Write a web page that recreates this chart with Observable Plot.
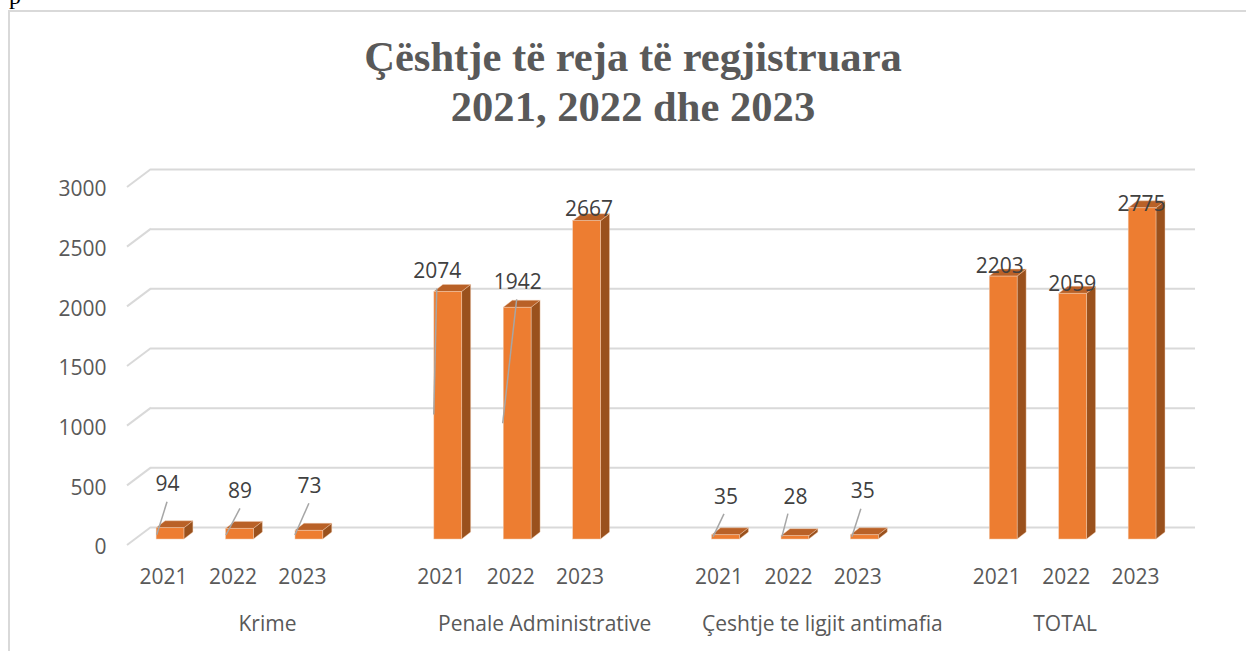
<!DOCTYPE html>
<html>
<head>
<meta charset="utf-8">
<script src="https://cdn.jsdelivr.net/npm/d3@7"></script>
<script src="https://cdn.jsdelivr.net/npm/@observablehq/plot@0.6"></script>
<style>
  html, body { margin: 0; padding: 0; background: #fff; overflow: hidden; }
  #page { position: relative; width: 1246px; height: 651px; overflow: hidden; }
  #stray { position: absolute; left: 9px; top: -17px; font: 24px "Liberation Serif", serif; color: #000; }
  #frame { position: absolute; left: 8px; top: 10px; width: 1238px; height: 660px; border-top: 2px solid #d9d9d9; border-left: 2px solid #d9d9d9; box-sizing: border-box; }
  #title { position: absolute; left: 0; width: 1266px; top: 32px; text-align: center; font: bold 42.6px/49.5px "Liberation Serif", serif; color: #595959; }
  #chart { position: absolute; left: 0; top: 0; }
  #chart svg { display: block; overflow: visible; }
</style>
</head>
<body>
<div id="page">
  <div id="stray">p</div>
  <div id="frame"></div>
  <div id="chart"></div>
  <div id="title">Çështje të reja të regjistruara<br>2021, 2022 dhe 2023</div>
</div>
<script>
// ---- Data ----
const groups = ["Krime", "Penale Administrative", "Çeshtje te ligjit antimafia", "TOTAL"];
const years = ["2021", "2022", "2023"];
const krime = [94, 89, 73];
const penale = [2074, 1942, 2667];
const antimafia = [35, 28, 35];
const total = [2203, 2059, 2775];
const yTicks = [0, 500, 1000, 1500, 2000, 2500, 3000];

const series = [krime, penale, antimafia, total];
const rows = groups.flatMap((g, gi) => years.map((yr, yi) => ({group: g, year: yr, value: series[gi][yi], key: g + "|" + yr})));

// x domain: three year slots per group, with an empty slot between groups
const domain = groups.flatMap((g, gi) => {
  const keys = years.map((yr) => g + "|" + yr);
  return gi < groups.length - 1 ? [...keys, "gap" + gi] : keys;
});

// ---- Styling of marks (pixel offsets relative to each bar's centre and top) ----
const DEPTH_X = 9, DEPTH_Y = 7;   // 3-D extrusion of the bars
const GRID_BACK = 12;             // rear wall offset from the front value plane
const labelOffsets = [
  [-3, -44], [0, -38], [0, -45],
  [-11, -21], [0, -25], [2, -12],
  [0, -38], [0, -39], [-2, -44],
  [-4, -10.5], [-1, -10], [-1, -4]
];
const leaderOffsets = [
  [-13.3, 7, -3, -26], [-13.5, 6.6, 0.5, -20], [-14, 4.7, 0, -27],
  [-14, 123, -11, -3], [-14.5, 116, -0.5, -8], null,
  [-12.5, 2, -1.5, -21], [-13, 1, -7, -22], [-12.5, 2, -3.5, -26],
  null, null, null
];
const groupDx = [27.5, 27, 27, -8];

const ns = "http://www.w3.org/2000/svg";
function poly(parent, pts, fill) {
  const p = document.createElementNS(ns, "polygon");
  p.setAttribute("points", pts.map((q) => q.join(",")).join(" "));
  p.setAttribute("fill", fill);
  p.setAttribute("stroke", "#f0c9ad");
  p.setAttribute("stroke-width", "0.7");
  p.setAttribute("stroke-opacity", "0.6");
  parent.appendChild(p);
}

// floor diagonals at the left end of every gridline, positioned by the y scale
function gridFeet(index, scales, values, dims) {
  const g = document.createElementNS(ns, "g");
  for (const v of yTicks) {
    const yBack = scales.y(v) - GRID_BACK;
    const l = document.createElementNS(ns, "line");
    l.setAttribute("x1", dims.marginLeft);
    l.setAttribute("y1", yBack);
    l.setAttribute("x2", dims.marginLeft - 24);
    l.setAttribute("y2", yBack + 18);
    l.setAttribute("stroke", "#d9d9d9");
    l.setAttribute("stroke-width", 2);
    g.appendChild(l);
  }
  return g;
}

// side + top faces of each bar, derived from the scaled bar geometry
function faces(index, scales, values, dims, context, next) {
  const g = next(index, scales, values, dims, context);
  const bw = scales.x.bandwidth();
  const under = document.createElementNS(ns, "g");
  for (const i of index) {
    const x0 = scales.x(rows[i].key), x1 = x0 + bw;
    const top = scales.y(rows[i].value), base = scales.y(0);
    poly(under, [[x1, top], [x1 + DEPTH_X, top - DEPTH_Y], [x1 + DEPTH_X, base - DEPTH_Y], [x1, base]], "#9a511d");
    poly(under, [[x0, top], [x0 + DEPTH_X, top - DEPTH_Y], [x1 + DEPTH_X, top - DEPTH_Y], [x1, top]], "#b96127");
  }
  g.insertBefore(under, g.firstChild);
  return g;
}

function leaders(index, scales) {
  const g = document.createElementNS(ns, "g");
  const bw = scales.x.bandwidth();
  rows.forEach((d, i) => {
    const o = leaderOffsets[i];
    if (!o) return;
    const cx = scales.x(d.key) + bw / 2, top = scales.y(d.value);
    const l = document.createElementNS(ns, "line");
    l.setAttribute("x1", cx + o[0]);
    l.setAttribute("y1", top + o[1]);
    l.setAttribute("x2", cx + o[2]);
    l.setAttribute("y2", top + o[3]);
    l.setAttribute("stroke", "#a6a6a6");
    l.setAttribute("stroke-width", 1.5);
    g.appendChild(l);
  });
  return g;
}

const FONT = '"Open Sans", sans-serif';
const plot = Plot.plot({
  width: 1246,
  height: 651,
  marginLeft: 151,
  marginRight: 51,
  marginTop: 181,
  marginBottom: 112,
  style: {fontFamily: FONT, background: "transparent"},
  x: {type: "band", domain, range: [135.3, 1176.8], paddingInner: 0.6, paddingOuter: 0.3, round: false, axis: null},
  y: {domain: [0, 3000], axis: null},
  marks: [
    Plot.ruleY(yTicks, {dy: -GRID_BACK, stroke: "#d9d9d9", strokeWidth: 2}),
    gridFeet,
    Plot.axisY({
      ticks: yTicks, tickSize: 0, tickPadding: 45, dy: 8, anchor: "left", label: null,
      fontSize: 21, fill: "#595959", tickFormat: (d) => String(d)
    }),
    Plot.barY(rows, {x: "key", y: "value", fill: "#ed7d31", stroke: "#f0c9ad", strokeWidth: 0.5, render: faces}),
    leaders,
    Plot.text(rows, {x: "key", y: () => 0, text: "year", dx: -7, dy: 38, fontSize: 21, fill: "#595959"}),
    ...groups.map((g, gi) => Plot.text([rows[gi * 3 + 1]], {
      x: "key", y: () => 0, text: () => g, dx: groupDx[gi], dy: 85, fontSize: 21, fill: "#595959"
    })),
    ...rows.map((d, i) => Plot.text([d], {
      x: "key", y: "value", text: (r) => String(r.value),
      dx: labelOffsets[i][0], dy: labelOffsets[i][1], fontSize: 21, fill: "#404040"
    }))
  ]
});
document.getElementById("chart").appendChild(plot);
</script>
</body>
</html>
